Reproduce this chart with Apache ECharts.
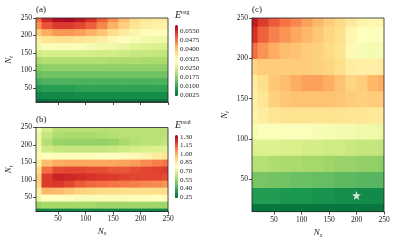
<!DOCTYPE html>
<html><head><meta charset="utf-8">
<script src="https://cdn.jsdelivr.net/npm/echarts@6/dist/echarts.min.js"></script>
<style>html,body{margin:0;padding:0;background:#fff}#c{width:396px;height:243px}</style>
</head><body><div id="c"></div>
<script>
// grid of sample points (N_x columns, N_t rows from bottom to top)
const xs = [10,30,50,70,90,110,130,150,170,190,210,230,250];
const ys = [10,30,50,70,90,110,130,150,170,190,210,230,250];

// panel (a): E^reg
const regValues = [
 [0.0031,0.0031,0.0037,0.0037,0.0037,0.0037,0.0037,0.0037,0.0037,0.0037,0.0037,0.0037,0.0037],
 [0.0054,0.0060,0.0060,0.0060,0.0065,0.0065,0.0065,0.0065,0.0065,0.0065,0.0065,0.0065,0.0065],
 [0.0083,0.0088,0.0088,0.0088,0.0094,0.0094,0.0094,0.0094,0.0094,0.0094,0.0094,0.0094,0.0094],
 [0.0111,0.0117,0.0117,0.0117,0.0117,0.0117,0.0117,0.0117,0.0117,0.0117,0.0117,0.0117,0.0117],
 [0.0140,0.0146,0.0146,0.0146,0.0146,0.0146,0.0146,0.0146,0.0146,0.0146,0.0146,0.0146,0.0146],
 [0.0169,0.0175,0.0175,0.0175,0.0175,0.0175,0.0175,0.0175,0.0175,0.0175,0.0175,0.0175,0.0175],
 [0.0203,0.0209,0.0209,0.0209,0.0209,0.0209,0.0209,0.0203,0.0203,0.0203,0.0198,0.0198,0.0198],
 [0.0244,0.0249,0.0249,0.0249,0.0249,0.0249,0.0244,0.0244,0.0238,0.0232,0.0232,0.0226,0.0226],
 [0.0290,0.0301,0.0301,0.0301,0.0301,0.0295,0.0290,0.0284,0.0278,0.0267,0.0261,0.0255,0.0255],
 [0.0341,0.0359,0.0364,0.0364,0.0359,0.0353,0.0341,0.0324,0.0313,0.0301,0.0290,0.0284,0.0284],
 [0.0393,0.0428,0.0445,0.0445,0.0439,0.0422,0.0399,0.0370,0.0347,0.0330,0.0318,0.0313,0.0313],
 [0.0451,0.0508,0.0531,0.0531,0.0520,0.0497,0.0462,0.0422,0.0387,0.0359,0.0341,0.0336,0.0336],
 [0.0485,0.0554,0.0583,0.0589,0.0571,0.0543,0.0497,0.0451,0.0405,0.0370,0.0353,0.0347,0.0347]
];

// panel (b): E^real
const realValues = [
 [0.29,0.30,0.30,0.30,0.30,0.30,0.30,0.30,0.30,0.30,0.30,0.30,0.30],
 [0.54,0.56,0.56,0.56,0.56,0.56,0.55,0.55,0.55,0.55,0.55,0.55,0.55],
 [0.73,0.78,0.78,0.77,0.76,0.76,0.76,0.76,0.76,0.77,0.77,0.78,0.79],
 [0.84,0.98,0.97,0.95,0.92,0.91,0.90,0.90,0.89,0.89,0.89,0.89,0.89],
 [0.91,1.20,1.21,1.18,1.14,1.12,1.11,1.10,1.09,1.08,1.07,1.06,1.04],
 [0.93,1.20,1.25,1.24,1.23,1.22,1.21,1.20,1.19,1.18,1.18,1.18,1.17],
 [0.89,1.11,1.17,1.18,1.18,1.17,1.17,1.15,1.15,1.17,1.18,1.19,1.20],
 [0.84,0.96,1.00,1.01,1.01,1.01,1.01,1.01,1.02,1.03,1.06,1.08,1.10],
 [0.80,0.78,0.77,0.77,0.77,0.77,0.78,0.78,0.79,0.80,0.82,0.85,0.87],
 [0.75,0.65,0.63,0.63,0.63,0.63,0.63,0.64,0.65,0.66,0.67,0.68,0.69],
 [0.73,0.59,0.54,0.53,0.53,0.53,0.53,0.54,0.57,0.59,0.60,0.60,0.62],
 [0.73,0.63,0.58,0.57,0.57,0.57,0.58,0.59,0.60,0.60,0.60,0.60,0.60],
 [0.75,0.67,0.60,0.60,0.60,0.60,0.60,0.60,0.60,0.60,0.60,0.60,0.60]
];

// panel (c): normalised error
const panelCValues = [
 [0.03,0.03,0.03,0.03,0.03,0.03,0.03,0.03,0.03,0.03,0.03,0.03,0.03],
 [0.11,0.11,0.11,0.10,0.10,0.10,0.09,0.09,0.08,0.08,0.07,0.07,0.07],
 [0.23,0.23,0.22,0.22,0.21,0.21,0.20,0.20,0.19,0.19,0.18,0.18,0.18],
 [0.33,0.33,0.32,0.31,0.31,0.30,0.30,0.29,0.28,0.28,0.27,0.27,0.26],
 [0.41,0.41,0.41,0.40,0.40,0.39,0.39,0.38,0.38,0.37,0.36,0.36,0.35],
 [0.48,0.49,0.49,0.49,0.49,0.49,0.48,0.48,0.47,0.47,0.46,0.46,0.45],
 [0.54,0.56,0.58,0.59,0.59,0.59,0.59,0.59,0.59,0.58,0.58,0.57,0.57],
 [0.55,0.58,0.63,0.65,0.66,0.66,0.66,0.66,0.65,0.64,0.63,0.64,0.64],
 [0.56,0.60,0.65,0.67,0.70,0.72,0.72,0.70,0.66,0.62,0.64,0.68,0.70],
 [0.62,0.64,0.64,0.64,0.64,0.64,0.63,0.62,0.60,0.56,0.55,0.55,0.56],
 [0.80,0.74,0.70,0.67,0.66,0.64,0.63,0.61,0.59,0.52,0.48,0.47,0.48],
 [0.90,0.82,0.77,0.74,0.71,0.68,0.65,0.62,0.60,0.53,0.50,0.49,0.50],
 [0.95,0.88,0.83,0.79,0.76,0.72,0.68,0.64,0.61,0.57,0.54,0.53,0.53]
];

const axisTicks = [50,100,150,200,250];
const regTicks = [0.0025,0.0100,0.0175,0.0250,0.0325,0.0400,0.0475,0.0550];
const realTicks = [0.25,0.40,0.55,0.70,0.85,1.00,1.15,1.30];
const regRange = [0.0020, 0.0600];
const realRange = [0.23, 1.33];
const panelCRange = [0, 1];
const starPoints = [[200, 30]];

const cmap = ['#006837','#1a9850','#66bd63','#a6d96a','#d9ef8b','#ffffbf','#fee08b','#fdae61','#f46d43','#d73027','#a50026'];
const FONT = 'Liberation Serif';
const INK = '#222';

function toCells(vals){
  const out = [];
  ys.forEach((y,i)=>xs.forEach((x,j)=>out.push([x,y,vals[i][j]])));
  return out;
}
const hx = (xs[1]-xs[0])/2, hy = (ys[1]-ys[0])/2;
function cellRender(params, api){
  const x = api.value(0), y = api.value(1);
  const p0 = api.coord([x-hx, y+hy]);
  const p1 = api.coord([x+hx, y-hy]);
  const cs = params.coordSys;
  const shape = echarts.graphic.clipRectByRect(
    {x:p0[0], y:p0[1], width:p1[0]-p0[0]+0.6, height:p1[1]-p0[1]+0.6},
    {x:cs.x, y:cs.y, width:cs.width, height:cs.height});
  if(!shape) return null;
  return {type:'rect', shape:shape, style:{fill:api.visual('color')}};
}

const nameRich = {
  n:{fontFamily:FONT, fontStyle:'italic', fontSize:9, color:INK},
  s:{fontFamily:FONT, fontStyle:'italic', fontSize:6, color:INK, verticalAlign:'bottom', padding:[4,0,0,0]}
};
function mainX(gi, labels, name){
  return {gridIndex:gi, type:'value', min:10, max:250,
    axisLine:{show:true, lineStyle:{color:INK, width:0.8}},
    axisTick:{show:true, customValues:axisTicks, length:3, lineStyle:{color:INK, width:0.8}},
    axisLabel:{show:labels, customValues:axisTicks, fontFamily:FONT, fontSize:7.5, color:INK, margin:4},
    splitLine:{show:false},
    name:name||'', nameLocation:'middle', nameGap:15, nameTextStyle:{rich:nameRich}};
}
function mainY(gi, name){
  return {gridIndex:gi, type:'value', min:10, max:250,
    axisLine:{show:true, lineStyle:{color:INK, width:0.8}},
    axisTick:{show:true, customValues:axisTicks, length:3, lineStyle:{color:INK, width:0.8}},
    axisLabel:{show:true, customValues:axisTicks, fontFamily:FONT, fontSize:7.5, color:INK, margin:4},
    splitLine:{show:false},
    name:name, nameLocation:'middle', nameGap:22, nameRotate:90, nameTextStyle:{rich:nameRich}};
}
function cbY(gi, range, ticks, dec){
  return {gridIndex:gi, type:'value', min:range[0], max:range[1], position:'right',
    axisLine:{show:false},
    axisTick:{show:true, customValues:ticks, length:2, inside:false, lineStyle:{color:INK, width:0.8}},
    axisLabel:{show:true, customValues:ticks, fontFamily:FONT, fontSize:7, color:INK, margin:2,
      formatter:v=>v.toFixed(dec)},
    splitLine:{show:false}};
}
const gridStyle = {show:true, borderColor:INK, borderWidth:0.8, backgroundColor:'transparent', z:5};

const option = {
  animation:false,
  grid:[
    Object.assign({left:36, top:18, width:132, height:84}, gridStyle),
    Object.assign({left:36, top:127.5, width:132, height:84}, gridStyle),
    Object.assign({left:252, top:18, width:132, height:194}, gridStyle),
    {left:175, top:25, width:3, height:71, show:false},
    {left:175, top:135, width:3, height:63, show:false}
  ],
  xAxis:[
    mainX(0,false),
    mainX(1,true,'{n|N}{s|x}'),
    mainX(2,true,'{n|N}{s|x}'),
    {gridIndex:3, type:'value', show:false, min:0, max:1},
    {gridIndex:4, type:'value', show:false, min:0, max:1}
  ],
  yAxis:[
    mainY(0,'{n|N}{s|t}'),
    mainY(1,'{n|N}{s|t}'),
    mainY(2,'{n|N}{s|t}'),
    cbY(3, regRange, regTicks, 4),
    cbY(4, realRange, realTicks, 2)
  ],
  visualMap:[
    {type:'continuous', seriesIndex:0, dimension:2, min:regRange[0], max:regRange[1],
     inRange:{color:cmap}, show:true, calculable:false, hoverLink:false, text:null,
     left:175, top:25, itemWidth:3, itemHeight:71, padding:0, orient:'vertical', showLabel:false},
    {type:'continuous', seriesIndex:1, dimension:2, min:realRange[0], max:realRange[1],
     inRange:{color:cmap}, show:true, calculable:false, hoverLink:false, text:null,
     left:175, top:135, itemWidth:3, itemHeight:63, padding:0, orient:'vertical', showLabel:false},
    {type:'continuous', seriesIndex:2, dimension:2, min:panelCRange[0], max:panelCRange[1],
     inRange:{color:cmap}, show:false}
  ],
  series:[
    {type:'custom', xAxisIndex:0, yAxisIndex:0, data:toCells(regValues), renderItem:cellRender, encode:{x:0,y:1}, silent:true},
    {type:'custom', xAxisIndex:1, yAxisIndex:1, data:toCells(realValues), renderItem:cellRender, encode:{x:0,y:1}, silent:true},
    {type:'custom', xAxisIndex:2, yAxisIndex:2, data:toCells(panelCValues), renderItem:cellRender, encode:{x:0,y:1}, silent:true},
    {type:'scatter', xAxisIndex:2, yAxisIndex:2, data:starPoints, z:10,
     symbol:'path://M0,-10 L2.35,-3.24 L9.51,-3.09 L3.8,1.24 L5.88,8.09 L0,4 L-5.88,8.09 L-3.8,1.24 L-9.51,-3.09 L-2.35,-3.24 Z',
     symbolSize:9, itemStyle:{color:'#ffffff'}, silent:true}
  ],
  graphic:[
    {type:'text', left:36, top:5, style:{text:'(a)', font:'9px "Liberation Serif"', fill:INK}},
    {type:'text', left:36, top:115, style:{text:'(b)', font:'9px "Liberation Serif"', fill:INK}},
    {type:'text', left:252, top:5, style:{text:'(c)', font:'9px "Liberation Serif"', fill:INK}},
    {type:'text', left:175, top:9, style:{text:'{e|E}{s|reg}', rich:{
      e:{fontFamily:FONT, fontStyle:'italic', fontSize:10, fill:INK, verticalAlign:'bottom'},
      s:{fontFamily:FONT, fontSize:6.5, fill:INK, verticalAlign:'top', padding:[0,0,4,0]}}}},
    {type:'text', left:175, top:119, style:{text:'{e|E}{s|real}', rich:{
      e:{fontFamily:FONT, fontStyle:'italic', fontSize:10, fill:INK, verticalAlign:'bottom'},
      s:{fontFamily:FONT, fontSize:6.5, fill:INK, verticalAlign:'top', padding:[0,0,4,0]}}}}
  ]
};
const chart = echarts.init(document.getElementById('c'), null, {renderer:'canvas'});
chart.setOption(option);
</script>
</body></html>
